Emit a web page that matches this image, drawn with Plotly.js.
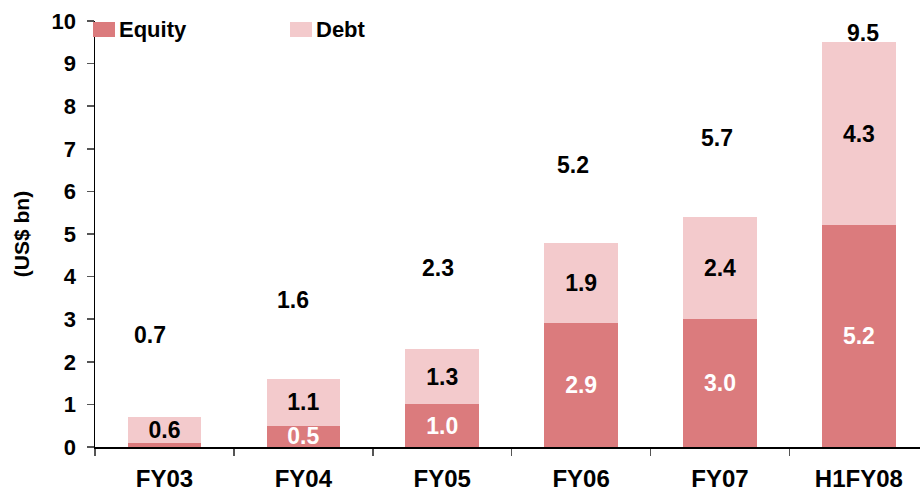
<!DOCTYPE html>
<html>
<head>
<meta charset="utf-8">
<script src="https://cdn.plot.ly/plotly-3.0.1.min.js"></script>
<style>
html,body{margin:0;padding:0;background:#fff;}
#chart{width:920px;height:491px;}
</style>
</head>
<body>
<div id="chart"></div>
<script>
// ---- data ----
var categories = ['FY03', 'FY04', 'FY05', 'FY06', 'FY07', 'H1FY08'];
var equity = [0.1, 0.5, 1.0, 2.9, 3.0, 5.2];
var debt = [0.6, 1.1, 1.3, 1.9, 2.4, 4.3];
var totals = [0.7, 1.6, 2.3, 5.2, 5.7, 9.5];
var equityLabels = ['', '0.5', '1.0', '2.9', '3.0', '5.2'];
var debtLabels = ['0.6', '1.1', '1.3', '1.9', '2.4', '4.3'];
var yTickVals = [0, 1, 2, 3, 4, 5, 6, 7, 8, 9, 10];
var seriesNames = ['Equity', 'Debt'];
var seriesColors = ['#DB7B7D', '#F3CACC'];

// ---- placement of the total labels (as drawn in the source) ----
var totalLabelY = [2.63, 3.45, 4.2, 6.62, 7.25, 9.72];
var totalLabelShift = [-14, -10, -4, -8, -3, 4];

var FONT = 'Liberation Sans, Arial, Helvetica, sans-serif';
var PL = 95, PT = 21, PW = 825, PH = 426; // plot area in px
function px2x(p) { return (p - PL) / PW; }
function px2y(p) { return (PT + PH - p) / PH; }

var traceEquity = {
  type: 'bar', name: seriesNames[0], x: categories, y: equity,
  text: equityLabels, textposition: 'inside', insidetextanchor: 'middle',
  textangle: 0, constraintext: 'none',
  textfont: {family: FONT, size: 23, color: '#ffffff', weight: 700},
  marker: {color: seriesColors[0], line: {width: 0}},
  width: 0.53, hoverinfo: 'skip', showlegend: false
};
var traceDebt = {
  type: 'bar', name: seriesNames[1], x: categories, y: debt,
  text: debtLabels, textposition: 'inside', insidetextanchor: 'middle',
  textangle: 0, constraintext: 'none',
  textfont: {family: FONT, size: 23, color: '#000000', weight: 700},
  marker: {color: seriesColors[1], line: {width: 0}},
  width: 0.53, hoverinfo: 'skip', showlegend: false
};

var annotations = categories.map(function (c, i) {
  return {
    x: c, y: totalLabelY[i], xref: 'x', yref: 'y',
    text: totals[i].toFixed(1), showarrow: false, xshift: totalLabelShift[i],
    font: {family: FONT, size: 23, color: '#000000', weight: 700}
  };
});

// hand-drawn legend (swatch + label) matching the source's layout
var legendSwatchX = [93, 290];
var shapes = [];
seriesNames.forEach(function (n, i) {
  shapes.push({
    type: 'rect', xref: 'paper', yref: 'paper',
    x0: px2x(legendSwatchX[i]), x1: px2x(legendSwatchX[i] + 22),
    y0: px2y(37), y1: px2y(22),
    fillcolor: seriesColors[i], line: {width: 0}, layer: 'above'
  });
  annotations.push({
    xref: 'paper', yref: 'paper', x: px2x(legendSwatchX[i] + 24), y: px2y(30),
    xanchor: 'left', yanchor: 'middle', showarrow: false, text: n,
    font: {family: FONT, size: 22, color: '#000000', weight: 700}
  });
});

var layout = {
  width: 920, height: 491,
  margin: {l: 95, r: 0, t: 21, b: 44, pad: 0},
  paper_bgcolor: '#ffffff', plot_bgcolor: '#ffffff',
  font: {family: FONT, size: 22, color: '#000000', weight: 700},
  barmode: 'stack',
  showlegend: false,
  xaxis: {
    type: 'category', range: [-0.5, 5.44],
    showline: true, linecolor: '#000000', linewidth: 1.5,
    ticks: 'outside', tickson: 'boundaries', ticklen: 7, tickcolor: '#555555', tickwidth: 1.5,
    tickfont: {family: FONT, size: 24, color: '#000000', weight: 700},
    ticklabelstandoff: 10,
    showgrid: false, zeroline: false, fixedrange: true
  },
  yaxis: {
    range: [0, 10], tickvals: yTickVals, ticktext: yTickVals.map(String),
    showline: true, linecolor: '#000000', linewidth: 1.5,
    ticks: 'outside', ticklen: 7, tickcolor: '#555555', tickwidth: 1.5,
    tickfont: {family: FONT, size: 22, color: '#000000', weight: 700},
    ticklabelstandoff: 6,
    showgrid: false, zeroline: false, fixedrange: true,
    title: {text: '(US$ bn)', font: {family: FONT, size: 21, color: '#000000', weight: 700}, standoff: 16}
  },
  shapes: shapes,
  annotations: annotations
};

Plotly.newPlot('chart', [traceEquity, traceDebt], layout, {displayModeBar: false, staticPlot: true});
</script>
</body>
</html>
